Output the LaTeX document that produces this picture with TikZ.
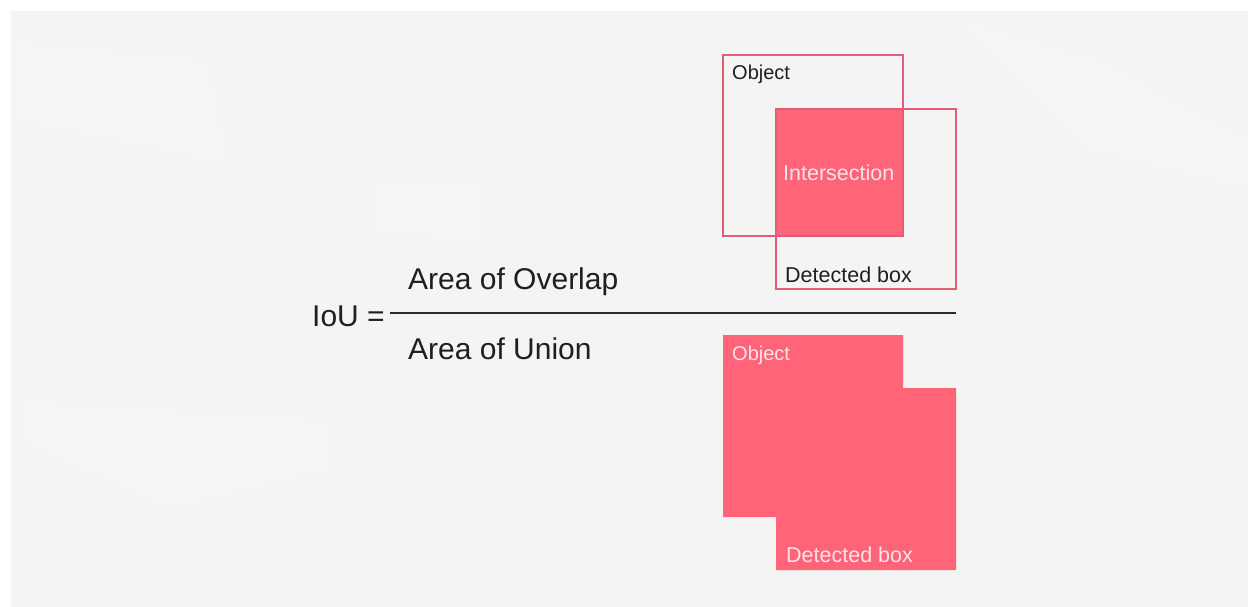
\documentclass[tikz,border=0pt]{standalone}
\usepackage{fontspec}
\setmainfont{Liberation Sans}
\definecolor{bgpaper}{HTML}{F4F4F4}
\definecolor{boxfill}{HTML}{FF6479}
\definecolor{boxline}{HTML}{E35C75}
\definecolor{inktext}{HTML}{1F1F1F}
\definecolor{paletext}{HTML}{FCE3E8}
\definecolor{ruleink}{HTML}{2B2B2B}
\tikzset{
  bigtext/.style={font=\fontsize{30}{36}\selectfont, text=inktext, inner sep=0pt, anchor=base west},
  smalltext/.style={font=\fontsize{20}{24}\selectfont, inner sep=0pt, anchor=base west},
  darklabel/.style={smalltext, text=inktext},
  palelabel/.style={smalltext, text=paletext},
  outlinebox/.style={draw=boxline, line width=2.6pt},
  solidarea/.style={fill=boxfill},
  facet/.style={fill=white, opacity=0.18},
}
\begin{document}
\begin{tikzpicture}[x=1pt, y=-1pt]
\useasboundingbox (0,0) rectangle (1248,607);

% paper background with a thin white margin top and left
\fill[white] (0,0) rectangle (1248,607);
\fill[bgpaper] (11,11) rectangle (1248,607);
% faint light facets in the background
\fill[facet] (11,40) -- (210,60) -- (230,165) -- (11,120) -- cycle;
\fill[facet] (20,400) -- (330,420) -- (330,470) -- (170,510) -- (20,440) -- cycle;
\fill[facet] (375,180) -- (480,185) -- (480,240) -- (375,235) -- cycle;
\fill[facet] (960,20) -- (1100,60) -- (1248,140) -- (1248,190) -- (1090,150) -- cycle;

% ---- intersection picture ----
\fill[solidarea] (776,109) rectangle (903,236);
\draw[outlinebox] (723,55) rectangle (903,236);
\draw[outlinebox] (776,109) rectangle (956,289);
\node[darklabel] (objtop) at (732,80) {Object};
\node[palelabel, font=\fontsize{21.5}{24}\selectfont] (inter) at (783,180) {Intersection};
\node[darklabel, font=\fontsize{21.5}{24}\selectfont] (dettop) at (785,282) {Detected box};

% ---- union picture ----
\fill[solidarea] (723,335) -- (903,335) -- (903,388) -- (956,388) -- (956,570)
  -- (776,570) -- (776,517) -- (723,517) -- cycle;
\node[palelabel] (objbot) at (732,360) {Object};
\node[palelabel, font=\fontsize{21.5}{24}\selectfont] (detbot) at (786,562) {Detected box};

% ---- formula ----
\node[bigtext] (iou) at (312,326) {IoU =};
\node[bigtext] (num) at (408,289) {Area of Overlap};
\node[bigtext] (den) at (408,359) {Area of Union};
\coordinate (barL) at (390,313);
\coordinate (barR) at (956,313);
\draw[ruleink, line width=2.6pt] (barL) -- (barR);
\end{tikzpicture}
\end{document}
